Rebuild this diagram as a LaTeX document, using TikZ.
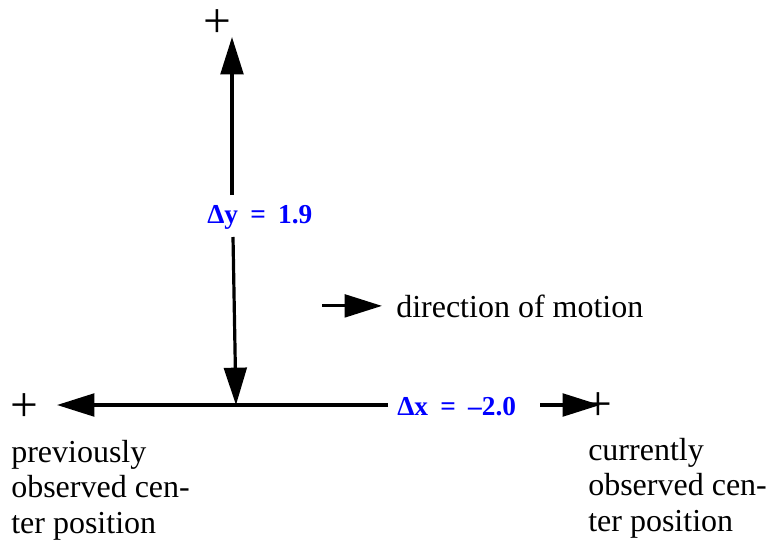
\documentclass[tikz,border=0pt]{standalone}
\usepackage{fontspec}
\setmainfont{Liberation Serif}
\usetikzlibrary{arrows.meta}

\begin{document}
\begin{tikzpicture}[
  x=0.75pt, y=-0.75pt,
  arr/.style={line width=2.4pt,-{Triangle[length=28pt,width=17pt]}},
  posmark/.style={inner sep=0pt,font=\fontsize{37}{37}\selectfont},
  delta/.style={text=blue,inner sep=0pt,anchor=base west,font=\fontsize{20.5}{20.5}\selectfont\bfseries},
  postext/.style={align=left,inner sep=0pt,font=\fontsize{24}{26.6}\selectfont}
]
  \useasboundingbox (0,0) rectangle (767,542);
  \node[posmark] (top) at (217,24) {+};
  \node[posmark] (prev) at (24,408) {+};
  \node[posmark] (curr) at (598,407) {+};
  \node[delta] (dy) at (207,223) {Δy\hspace{0.45em}=\hspace{0.45em}1.9};
  \node[delta] (dx) at (397,415) {Δx\hspace{0.45em}=\hspace{0.45em}–2.0};
  \node[postext,anchor=base west,inner xsep=10.5pt] (motion) at (382,317) {direction of motion};
  \node[postext,anchor=north west] (prevtext) at (11,440) {previously\\observed cen-\\ter position};
  \node[postext,anchor=north west] (currtext) at (588,438) {currently\\observed cen-\\ter position};
  \coordinate (o) at (236,405);
  \coordinate (ytip) at (232,37);
  \coordinate (ytail) at (232,195);
  \coordinate (ydown) at (233,237);
  \coordinate (xtip) at (57,405);
  \coordinate (xleft) at (388,405);
  \coordinate (xright) at (540,405);
  \coordinate (xend) at (600,405);
  \draw[arr] (ytail) -- (ytip);
  \draw[arr] (ydown) -- (o);
  \draw[arr] (xleft) -- (xtip);
  \draw[arr] (xright) -- (xend);
  \draw[arr] ([xshift=-45pt]motion.west) -- (motion.west);
\end{tikzpicture}
\end{document}
